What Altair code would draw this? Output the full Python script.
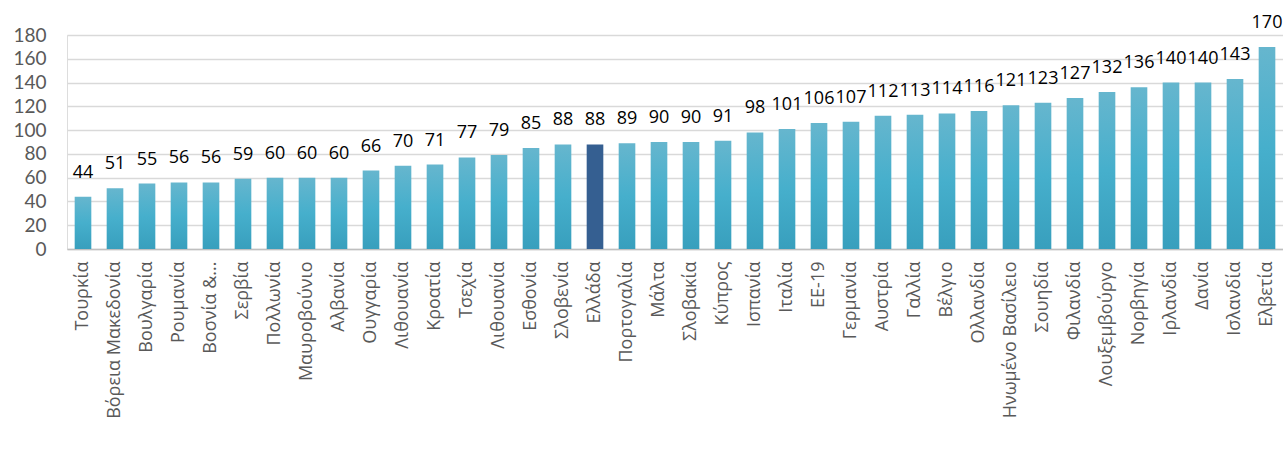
import altair as alt
import pandas as pd
import json

countries = ["Τουρκία", "Βόρεια Μακεδονία", "Βουλγαρία", "Ρουμανία", "Βοσνία &...",
             "Σερβία", "Πολλωνία", "Μαυροβούνιο", "Αλβανία", "Ουγγαρία",
             "Λιθουανία", "Κροατία", "Τσεχία", "Λιθουανία", "Εσθονία",
             "Σλοβενία", "Ελλάδα", "Πορτογαλία", "Μάλτα", "Σλοβακία",
             "Κύπρος", "Ισπανία", "Ιταλία", "ΕΕ-19", "Γερμανία",
             "Αυστρία", "Γαλλία", "Βέλγιο", "Ολλανδία", "Ηνωμένο Βασίλειο",
             "Σουηδία", "Φιλανδία", "Λουξεμβούργο", "Νορβηγία", "Ιρλανδία",
             "Δανία", "Ισλανδία", "Ελβετία"]
values = [44, 51, 55, 56, 56, 59, 60, 60, 60, 66,
          70, 71, 77, 79, 85, 88, 88, 89, 90, 90,
          91, 98, 101, 106, 107, 112, 113, 114, 116, 121,
          123, 127, 132, 136, 140, 140, 143, 170]
highlight = "Ελλάδα"

df = pd.DataFrame({"i": list(range(len(countries))), "country": countries, "value": values})
df["hl"] = df["country"] == highlight

label_expr = json.dumps(countries, ensure_ascii=False) + "[datum.value]"

FONT = "Open Sans"

x = alt.X("i:O", sort=None,
          scale=alt.Scale(domain=list(range(len(countries))), paddingInner=0.48, paddingOuter=0.24),
          axis=alt.Axis(title=None, labelExpr=label_expr, labelAngle=-90,
                        labelFontSize=18, labelColor="#595959", labelFont=FONT,
                        ticks=False, domainColor="#bfbfbf", domainWidth=1.5,
                        labelPadding=12, grid=False, labelOverlap=False))
y = alt.Y("value:Q", scale=alt.Scale(domain=[0, 180], nice=False),
          axis=alt.Axis(title=None, values=list(range(0, 181, 20)), labelFontSize=19,
                        labelColor="#595959", labelFont="Lato", ticks=False,
                        domain=False, gridColor="#d9d9d9", gridWidth=1.5,
                        labelPadding=21))

grad = alt.Gradient(gradient="linear", x1=0, y1=0, x2=0, y2=1,
                    stops=[alt.GradientStop(color="#66b6ce", offset=0),
                           alt.GradientStop(color="#46afcc", offset=0.5),
                           alt.GradientStop(color="#389fbd", offset=1)])

base = alt.Chart(df)
bars = base.transform_filter("!datum.hl").mark_bar(color=grad).encode(x=x, y=y)
hbar = base.transform_filter("datum.hl").mark_bar(color="#355f91").encode(x=x, y=y)
text = base.mark_text(baseline="alphabetic", dy=-19, fontSize=18, font=FONT,
                      color="#000000").encode(x=x, y=y, text="value:Q")

chart = alt.layer(bars, hbar, text).properties(
    width=1216, height=214,
    autosize=alt.AutoSizeParams(type="none"),
    padding={"left": 67, "top": 35, "right": 0, "bottom": 201},
).configure_view(stroke=None).configure(background="white")

chart.save("out.html", embed_options={"renderer": "svg", "actions": False})
